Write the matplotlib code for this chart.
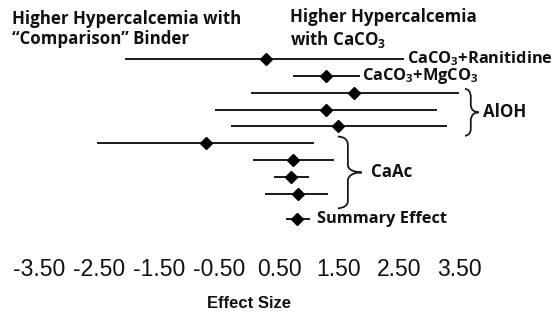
import matplotlib
matplotlib.use("Agg")
import matplotlib.pyplot as plt
from matplotlib.path import Path
from matplotlib.patches import PathPatch

plt.rcParams['mathtext.fontset'] = 'custom'
plt.rcParams['mathtext.rm'] = 'Open Sans:bold'
plt.rcParams['mathtext.it'] = 'Open Sans:bold'
plt.rcParams['mathtext.bf'] = 'Open Sans:bold'

# ---- data ----
row_labels = ["CaCO$_3$+Ranitidine", "CaCO$_3$+MgCO$_3$", "", "", "", "", "", "", "", "Summary Effect"]
row_pos = [0, 1, 2, 3, 4, 5, 6, 7, 8, 9.5]
lower = [-2.07, 0.73, 0.03, -0.57, -0.30, -2.53, 0.07, 0.42, 0.27, 0.62]
effect = [0.28, 1.28, 1.75, 1.28, 1.48, -0.72, 0.73, 0.70, 0.82, 0.80]
upper = [2.58, 1.85, 3.50, 3.13, 3.30, 1.08, 1.42, 1.00, 1.32, 1.02]
tick_values = [-3.5, -2.5, -1.5, -0.5, 0.5, 1.5, 2.5, 3.5]
tick_labels = ["-3.50", "-2.50", "-1.50", "-0.50", "0.50", "1.50", "2.50", "3.50"]
groups = ["AlOH", "CaAc"]
group_rows = [(2, 4), (5, 8)]

W, H = 560, 312
fig = plt.figure(figsize=(W / 100, H / 100), dpi=100)
fig.patch.set_facecolor('white')

# axes placed in pixel coordinates: x -4..4 -> px 9..489 ; rows -1.007..10.49 -> px 42..236
ax_left, ax_right = 9, 489
ax_top, ax_bot = 42, 236
ax = fig.add_axes([ax_left / W, 1 - ax_bot / H, (ax_right - ax_left) / W, (ax_bot - ax_top) / H])
ax.set_xlim(-4, 4)
ax.set_ylim(10.49, -1.007)
for s in ax.spines.values():
    s.set_visible(False)
ax.patch.set_alpha(0)

bold = dict(family=['Open Sans', 'DejaVu Sans'], weight='bold', fontsize=12.2, color='#111111')
row_font = dict(bold, fontsize=11.8)

label_off = [0.05, 0.04, 0, 0, 0, 0, 0, 0, 0, 0.11]
for i in range(len(row_pos)):
    ax.plot([lower[i], upper[i]], [row_pos[i], row_pos[i]], color='#1a1a1a', lw=1.4, solid_capstyle='butt', zorder=2)
    ax.plot([effect[i]], [row_pos[i]], marker='D', color='black', markersize=6.5, zorder=3)
    if row_labels[i]:
        ax.text(upper[i] + label_off[i], row_pos[i], row_labels[i], ha='left', va='center', **row_font)


def brace(ax, x0, tip, y0, y1, ry):
    ym = (y0 + y1) / 2
    xm = x0 + (tip - x0) * 0.42
    verts = [
        (x0, y0),
        (xm, y0), (xm, y0 + ry), (xm, y0 + ry),
        (xm, ym - ry),
        (xm, ym), (tip, ym), (tip, ym),
        (xm, ym), (xm, ym + ry), (xm, ym + ry),
        (xm, y1 - ry),
        (xm, y1), (x0, y1), (x0, y1),
    ]
    codes = [Path.MOVETO,
             Path.CURVE4, Path.CURVE4, Path.CURVE4,
             Path.LINETO,
             Path.CURVE4, Path.CURVE4, Path.CURVE4,
             Path.CURVE4, Path.CURVE4, Path.CURVE4,
             Path.LINETO,
             Path.CURVE4, Path.CURVE4, Path.CURVE4]
    ax.add_patch(PathPatch(Path(verts, codes), fill=False, lw=1.3, edgecolor='#1a1a1a'))


brace_x = [3.60, 1.48]
brace_tip = [3.83, 1.88]
brace_ext = [(-0.22, 0.55), (-0.4, 0.85)]
label_gap = [0.07, 0.15]
for g, (r0, r1), bx, bt, (e0, e1), lg in zip(groups, group_rows, brace_x, brace_tip, brace_ext, label_gap):
    y0, y1 = r0 + e0, r1 + e1
    brace(ax, bx, bt, y0, y1, 0.45)
    ax.text(bt + lg, (y0 + y1) / 2, g, ha='left', va='center', **bold)

ax.set_xticks(tick_values)
ax.set_xticklabels(tick_labels, family=['Liberation Sans', 'DejaVu Sans'], fontsize=16.5, color='#111111')
ax.tick_params(axis='x', length=0, pad=16)
ax.set_yticks([])
ax.set_xlabel("Effect Size", family=['Liberation Sans', 'DejaVu Sans'],
              weight='bold', fontsize=12, color='#111111', labelpad=11)

fig.text(12 / W, 1 - 29 / H, "Higher Hypercalcemia with\n\u201cComparison\u201d Binder", ha='left', va='center',
         linespacing=1.15, **bold)
fig.text(290 / W, 1 - 29 / H, "Higher Hypercalcemia\nwith CaCO$_3$", ha='left', va='center',
         linespacing=1.15, **bold)

fig.savefig("out.png", dpi=100, facecolor='white')
